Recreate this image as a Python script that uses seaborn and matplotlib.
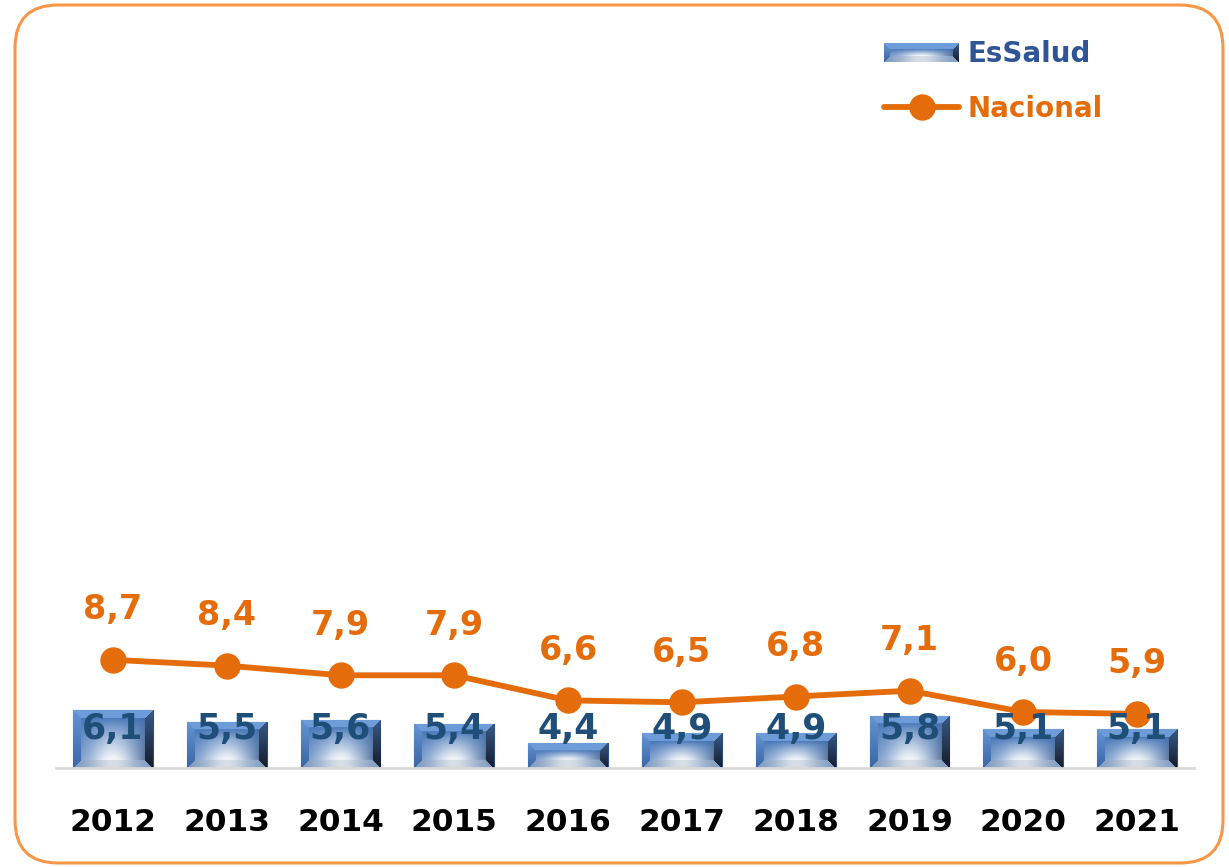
import numpy as np
import pandas as pd
import matplotlib
matplotlib.use("Agg")
import matplotlib.pyplot as plt
import seaborn as sns
from matplotlib.patches import FancyBboxPatch, Patch
from matplotlib.lines import Line2D

years = ["2012", "2013", "2014", "2015", "2016", "2017", "2018", "2019", "2020", "2021"]
essalud = [6.1, 5.5, 5.6, 5.4, 4.4, 4.9, 4.9, 5.8, 5.1, 5.1]
nacional = [8.7, 8.4, 7.9, 7.9, 6.6, 6.5, 6.8, 7.1, 6.0, 5.9]
series_names = ["EsSalud", "Nacional"]

ORANGE = "#E46C0A"
DARKBLUE = "#1F4E79"
LEGBLUE = "#2F5597"

sns.set_style("white")
plt.rcParams['font.family'] = ['DejaVu Sans']

W, H, DPI = 1229, 867, 100
fig = plt.figure(figsize=(W / DPI, H / DPI), dpi=DPI)
ax = fig.add_axes([56 / W, 1 - 768 / H, (1194 - 56) / W, (768 - 30) / H])

df = pd.DataFrame({"year": years, "essalud": essalud, "nacional": nacional})
YMIN, YMAX = 3.1, 41.3

sns.barplot(data=df, x="year", y="essalud", color="#4A7BBE", width=0.70,
            edgecolor="#2B4F80", linewidth=0.8, ax=ax, zorder=2)
sns.lineplot(x=np.arange(len(years)), y=nacional, ax=ax, color=ORANGE, linewidth=4.2,
             marker="o", markersize=19, markeredgewidth=0, zorder=4)
ax.set_ylim(YMIN, YMAX)
ax.set_xlim(-0.5, len(years) - 0.5)


def hex2rgb(h):
    h = h.lstrip("#")
    return np.array([int(h[i:i + 2], 16) / 255 for i in (0, 2, 4)])


def bevel_image(wpx, hpx, b=8):
    wpx, hpx = max(int(round(wpx)), 4), max(int(round(hpx)), 4)
    yy, xx = np.mgrid[0:hpx, 0:wpx] + 0.5
    u, v = xx / wpx, yy / hpx
    dl, dr, dt, db = xx, wpx - xx, yy, hpx - yy
    # inner face
    top = hex2rgb("#4676B8")
    white = hex2rgb("#F2F5F9")
    t = np.clip((yy - b) / max(hpx - 2 * b, 1), 0, 1)
    gx = np.exp(-((u - 0.5) / 0.30) ** 2)
    mix = np.clip(t ** 0.8 * (0.2 + 0.85 * gx), 0, 1)[..., None]
    img = top * (1 - mix) + white * mix
    # dark vignette on right of face
    sh = np.clip(np.exp(-(1 - u) / 0.10) * (0.3 + 0.7 * t), 0, 0.85)[..., None]
    img = img * (1 - sh) + hex2rgb("#1E2B40") * sh
    bb = min(b, hpx / 2.6)
    dmin = np.minimum.reduce([dl, dr, dt, db])
    edge = dmin < bb
    which = np.argmin(np.stack([dt, dl, dr, db]), axis=0)
    c_top = hex2rgb("#6E9CD8")
    c_left = hex2rgb("#6595D4") * (1 - v[..., None]) + hex2rgb("#3A66A6") * v[..., None]
    c_right = hex2rgb("#3A5A88") * (1 - v[..., None]) + hex2rgb("#141C2A") * v[..., None]
    gb = np.exp(-((u - 0.5) / 0.3) ** 2)[..., None]
    c_bot = hex2rgb("#7A98C0") * (1 - gb) + hex2rgb("#D8DEE6") * gb
    out = img.copy()
    m = edge & (which == 0)
    out[m] = c_top
    m = edge & (which == 1)
    out[m] = c_left[m]
    m = edge & (which == 2)
    out[m] = c_right[m]
    m = edge & (which == 3)
    out[m] = c_bot[m]
    return out


fig.canvas.draw()
bb_ax = ax.get_window_extent()
px_x = bb_ax.width / len(years)
px_y = bb_ax.height / (YMAX - YMIN)
for p in list(ax.patches):
    x0, w = p.get_x(), p.get_width()
    y1 = p.get_y() + p.get_height()
    y0 = YMIN
    img = bevel_image(w * px_x, (y1 - y0) * px_y)
    im = ax.imshow(img, extent=[x0, x0 + w, y0, y1], aspect="auto", zorder=2.5,
                   interpolation="bilinear")
    im.set_clip_path(p)
ax.set_ylim(YMIN, YMAX)
ax.set_xlim(-0.5, len(years) - 0.5)

# bar labels (inside base)
for i, v in enumerate(essalud):
    ax.annotate(f"{v:.1f}".replace(".", ","), xy=(i, YMIN), xytext=(0, 28),
                textcoords="offset points", ha="center", va="center",
                fontsize=25, fontweight="bold", color=DARKBLUE, zorder=6)
# line labels
for i, v in enumerate(nacional):
    ax.annotate(f"{v:.1f}".replace(".", ","), xy=(i, v), xytext=(0, 36),
                textcoords="offset points", ha="center", va="center",
                fontsize=24, fontweight="bold", color=ORANGE, zorder=6)

ax.set_xlabel("")
ax.set_ylabel("")
ax.set_yticks([])
for s in ["left", "right", "top"]:
    ax.spines[s].set_visible(False)
ax.spines["bottom"].set_color("#D9D9D9")
ax.spines["bottom"].set_linewidth(2)
ax.tick_params(axis="x", length=0, pad=28.5, labelsize=22.5)
for lab in ax.get_xticklabels():
    lab.set_fontweight("bold")
    lab.set_color("#000000")

handles = [Patch(facecolor="none", edgecolor="none"),
           Line2D([0], [0], color=ORANGE, linewidth=4.2, marker="o", markersize=19,
                  markeredgewidth=0)]
leg = fig.legend(handles, series_names, loc="upper left", bbox_to_anchor=(859 / W, 1 - 15 / H),
                 frameon=False, prop={"size": 20, "weight": "bold"}, handlelength=2.7,
                 handleheight=0.65, handletextpad=0.3, labelspacing=0.97,
                 labelcolor=[LEGBLUE, ORANGE])

# gradient legend swatch for the bar series
fig.canvas.draw()
hb = leg.legend_handles[0].get_window_extent()
lax = fig.add_axes([hb.x0 / W, hb.y0 / H, hb.width / W, hb.height / H])
lax.imshow(bevel_image(hb.width, hb.height, b=6), aspect="auto", interpolation="bilinear")
lax.set_axis_off()

border = FancyBboxPatch((15 / W, 4 / H), (1223 - 15) / W, (862 - 4) / H,
                        boxstyle="round,pad=0,rounding_size=0.035",
                        transform=fig.transFigure, facecolor="none",
                        edgecolor="#F79646", linewidth=2.2, mutation_aspect=W / H)
fig.patches.append(border)

fig.savefig("out.png", dpi=DPI)
